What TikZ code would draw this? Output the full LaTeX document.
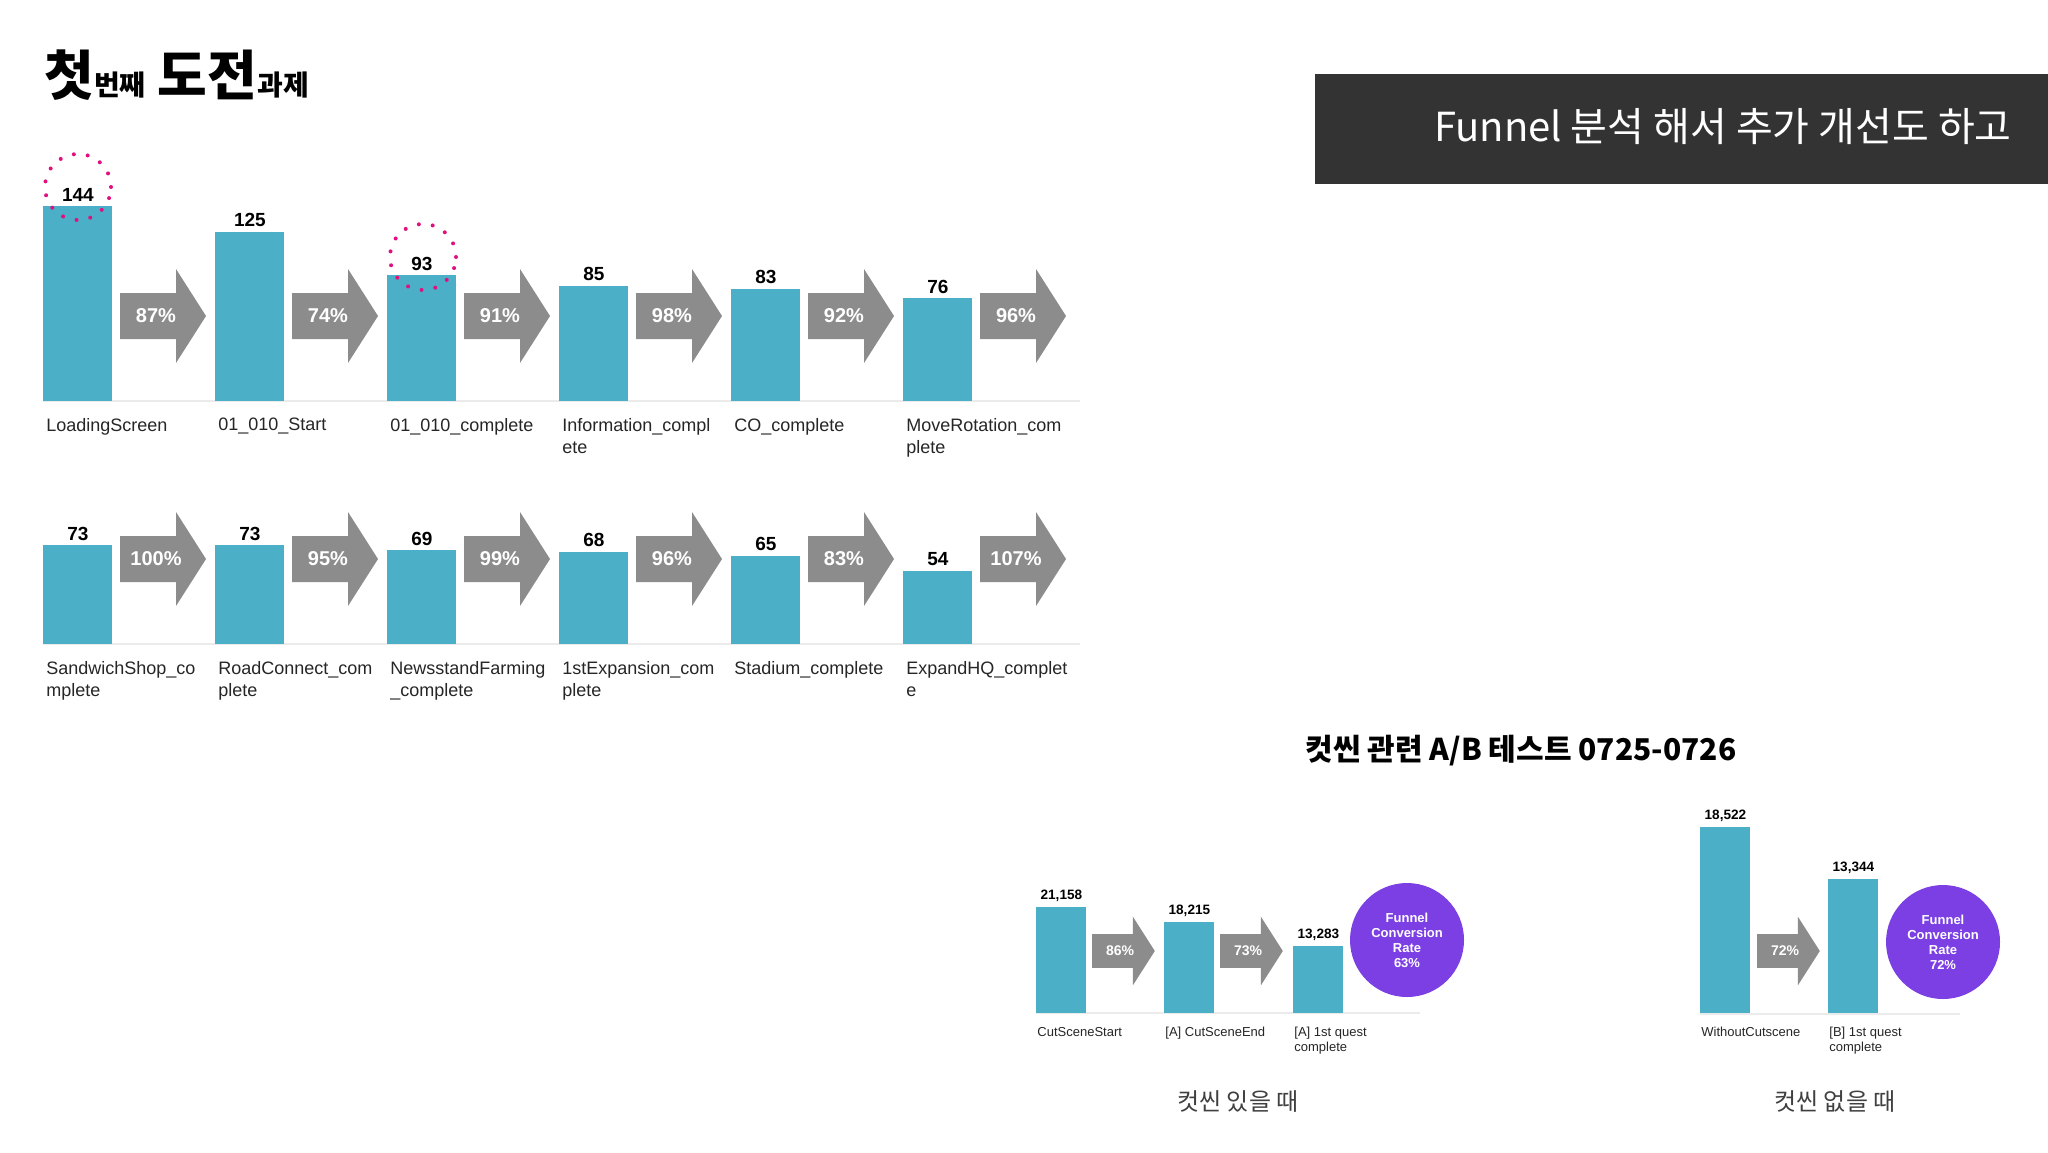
\documentclass[tikz,border=0pt]{standalone}
\usepackage{fontspec}
\setmainfont{Liberation Sans}
\newfontfamily\kr{Noto Sans CJK KR}
\definecolor{barc}{HTML}{4BAFC7}
\definecolor{arrc}{HTML}{8C8C8C}
\definecolor{purp}{HTML}{7B3FE4}
\definecolor{mag}{HTML}{E0117F}
\definecolor{dark}{HTML}{333333}
\tikzset{
 barbox/.style={fill=barc,inner sep=0pt,anchor=south west},
 valtxt/.style={font=\bfseries\fontsize{9.5}{11}\selectfont,anchor=south,inner sep=2pt},
 lbl/.style={font=\fontsize{9}{11}\selectfont,anchor=north west,align=left,inner sep=0pt,text=black!85},
 pct/.style={font=\bfseries\fontsize{10}{12}\selectfont,text=white,inner sep=0pt},
 slbl/.style={font=\fontsize{6.5}{7.5}\selectfont,anchor=north west,align=left,inner sep=0pt,text=black!85},
 sval/.style={font=\bfseries\fontsize{6.8}{8}\selectfont,anchor=south,inner sep=2pt},
 spct/.style={font=\bfseries\fontsize{7}{8}\selectfont,text=white,inner sep=0pt},
 circ/.style={circle,fill=purp,minimum size=57pt,inner sep=0pt,text=white,align=center,font=\bfseries\fontsize{6.5}{7.5}\selectfont},
 dotc/.style={circle,draw=mag,line width=2pt,dash pattern=on 0pt off 7pt,line cap=round,minimum size=33pt,inner sep=0pt},
}
\newcommand\farrow[4]{%
 \fill[arrc] (#1,#2-23*#4) -- (#1+56*#4,#2-23*#4) -- (#1+56*#4,#2-47*#4) -- (#1+86*#4,#2) -- (#1+56*#4,#2+47*#4) -- (#1+56*#4,#2+23*#4) -- (#1,#2+23*#4) -- cycle;}
\begin{document}
\begin{tikzpicture}[x=0.5pt,y=-0.5pt]
\useasboundingbox (0,0) rectangle (2048,1152);
\fill[white] (0,0) rectangle (2048,1152);
% title
\node[anchor=base west,inner sep=0pt] (title) at (44,95) {\kr\bfseries\fontsize{27}{30}\selectfont 첫{\fontsize{14}{16}\selectfont 번째} 도전{\fontsize{14}{16}\selectfont 과제}};
% dark box
\fill[dark] (1315,74) rectangle (2048,184);
\node[anchor=east,text=white,inner sep=0pt] (head) at (2012,127) {\kr\fontsize{20}{24}\selectfont Funnel 분석 해서 추가 개선도 하고};
% row 1
\draw[black!8,line width=1pt] (43,401) -- (1080,401);
\draw[black!8,line width=1pt] (43,644) -- (1080,644);
\foreach \v/\l/\p [count=\i] in {144/LoadingScreen/87\%,125/01\_010\_Start/74\%,93/01\_010\_complete/91\%,85/Information\_compl\\ete/98\%,83/CO\_complete/92\%,76/MoveRotation\_com\\plete/96\%}{
 \pgfmathsetmacro\xx{43+172*(\i-1)}
 \node[barbox,minimum width=34.5pt,minimum height=\v*0.675pt] (a\i) at (\xx,401) {};
 \node[valtxt] (av\i) at (a\i.north) {\v};
 \node[lbl] (al\i) at (\xx+3,418) {\l};
 \farrow{\xx+77}{316}{}{1}
 \node[pct] (ap\i) at (\xx+113,316) {\p};
}
\foreach \v/\l/\p [count=\i] in {73/SandwichShop\_co\\mplete/100\%,73/RoadConnect\_com\\plete/95\%,69/NewsstandFarming\\\_complete/99\%,68/1stExpansion\_com\\plete/96\%,65/Stadium\_complete/83\%,54/ExpandHQ\_complet\\e/107\%}{
 \pgfmathsetmacro\xx{43+172*(\i-1)}
 \node[barbox,minimum width=34.5pt,minimum height=\v*0.675pt] (b\i) at (\xx,644) {};
 \node[valtxt] (bv\i) at (b\i.north) {\v};
 \node[lbl] (bl\i) at (\xx+3,661) {\l};
 \farrow{\xx+77}{559}{}{1}
 \node[pct] (bp\i) at (\xx+113,559) {\p};
}
\node[dotc] (d1) at (78,187) {};
\node[dotc] (d2) at (423,257) {};
% AB test
\node[inner sep=0pt] (abt) at (1521,751) {\kr\bfseries\fontsize{15}{18}\selectfont 컷씬 관련 A/B 테스트 0725-0726};
\draw[black!8,line width=1pt] (1036,1013) -- (1420,1013);
\draw[black!8,line width=1pt] (1700,1014) -- (1960,1014);
\node[barbox,minimum width=25pt,minimum height=53pt] (c1) at (1036,1013) {};
\node[barbox,minimum width=25pt,minimum height=45.5pt] (c2) at (1164,1013) {};
\node[barbox,minimum width=25pt,minimum height=33.5pt] (c3) at (1293,1013) {};
\node[sval] at (c1.north) {21,158};
\node[sval] at (c2.north) {18,215};
\node[sval] at (c3.north) {13,283};
\farrow{1092}{951}{}{0.73}
\node[spct] (cp1) at (1120,951) {86\%};
\farrow{1220}{951}{}{0.73}
\node[spct] (cp2) at (1248,951) {73\%};
\node[circ] (cc) at (1407,940) {Funnel\\Conversion\\Rate\\63\%};
\node[slbl] at (1037,1027) {CutSceneStart};
\node[slbl] at (1165,1027) {[A] CutSceneEnd};
\node[slbl] at (1294,1027) {[A] 1st quest\\complete};
\node[inner sep=0pt,text=black!75] (cap1) at (1238,1101) {\kr\fontsize{12}{14}\selectfont 컷씬 있을 때};
\node[barbox,minimum width=25pt,minimum height=93pt] (e1) at (1700,1013) {};
\node[barbox,minimum width=25pt,minimum height=67pt] (e2) at (1828,1013) {};
\node[sval] at (e1.north) {18,522};
\node[sval] at (e2.north) {13,344};
\farrow{1757}{951}{}{0.73}
\node[spct] (ep1) at (1785,951) {72\%};
\node[circ] (ec) at (1943,942) {Funnel\\Conversion\\Rate\\72\%};
\node[slbl] at (1701,1027) {WithoutCutscene};
\node[slbl] at (1829,1027) {[B] 1st quest\\complete};
\node[inner sep=0pt,text=black!75] (cap2) at (1835,1101) {\kr\fontsize{12}{14}\selectfont 컷씬 없을 때};
\end{tikzpicture}
\end{document}
